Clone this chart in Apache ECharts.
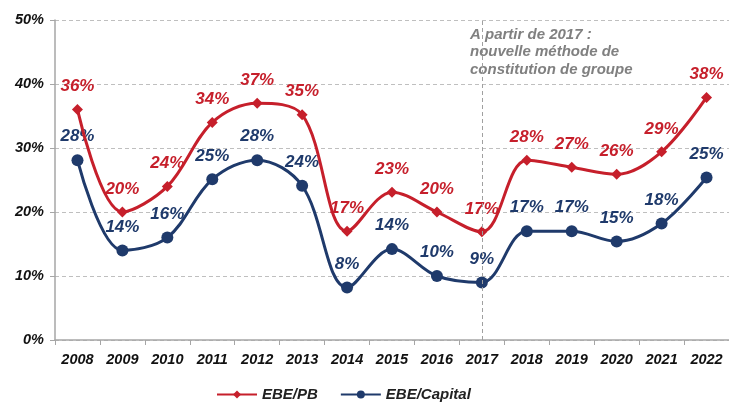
<!DOCTYPE html>
<html>
<head>
<meta charset="utf-8">
<script src="https://cdn.jsdelivr.net/npm/echarts@6/dist/echarts.min.js"></script>
<style>
  html, body { margin: 0; padding: 0; background: #fff; }
  #chart { width: 729px; height: 405px; }
</style>
</head>
<body>
<div id="chart"></div>
<script>
const years = ['2008', '2009', '2010', '2011', '2012', '2013', '2014', '2015', '2016', '2017', '2018', '2019', '2020', '2021', '2022'];
const ebePb = [36, 20, 24, 34, 37, 35.2, 17, 23.1, 20, 16.9, 28.1, 27, 25.9, 29.4, 37.9];
const ebeCapital = [28.1, 14, 16, 25.1, 28.1, 24.1, 8.2, 14.2, 10, 9, 17, 17, 15.4, 18.2, 25.4];
const yTicks = [0, 10, 20, 30, 40, 50];

const RED = '#C61F2B';
const NAVY = '#1F3A6B';
const FONT = '"Liberation Sans", Arial, sans-serif';

const chart = echarts.init(document.getElementById('chart'));

function labelStyle(color) {
  return {
    show: true,
    position: 'top',
    distance: 9,
    color: color,
    fontFamily: FONT,
    fontSize: 17,
    fontWeight: 'bold',
    fontStyle: 'italic',
    formatter: p => Math.round(p.value) + '%'
  };
}

const axisFont = { color: '#111', fontFamily: FONT, fontSize: 14.5, fontWeight: 'bold', fontStyle: 'italic' };

chart.setOption({
  animation: false,
  grid: { left: 55, right: 0, top: 20, bottom: 65 },
  legend: {
    bottom: 3,
    left: 216,
    padding: 0,
    itemWidth: 40,
    itemHeight: 10,
    itemGap: 22,
    textStyle: { fontFamily: FONT, fontSize: 15, fontWeight: 'bold', fontStyle: 'italic', color: '#222' },
    data: ['EBE/PB', 'EBE/Capital']
  },
  xAxis: {
    type: 'category',
    data: years,
    boundaryGap: true,
    axisLine: { lineStyle: { color: '#A6A6A6', width: 1.5 } },
    axisTick: { show: true, length: 5, lineStyle: { color: '#A6A6A6' } },
    axisLabel: Object.assign({ margin: 12, interval: 0 }, axisFont)
  },
  yAxis: {
    type: 'value',
    min: yTicks[0],
    max: yTicks[yTicks.length - 1],
    interval: 10,
    axisLine: { show: true, lineStyle: { color: '#A6A6A6', width: 1.5 } },
    axisTick: { show: true, length: 5, lineStyle: { color: '#A6A6A6' } },
    axisLabel: Object.assign({ margin: 11, formatter: '{value}%' }, axisFont),
    splitLine: { lineStyle: { color: '#BFBFBF', type: [4, 3], width: 1 } }
  },
  graphic: [{
    type: 'text',
    left: 470,
    top: 26,
    style: {
      text: 'A partir de 2017 :\nnouvelle méthode de\nconstitution de groupe',
      fill: '#808080',
      font: 'italic bold 15px ' + FONT,
      lineHeight: 17.5
    }
  }],
  series: [{
    name: 'EBE/PB',
    type: 'line',
    data: ebePb,
    smooth: 0.35,
    symbol: 'diamond',
    symbolSize: 11,
    itemStyle: { color: RED },
    lineStyle: { color: RED, width: 3 },
    label: labelStyle(RED),
    z: 3,
    markLine: {
      silent: true,
      symbol: 'none',
      label: { show: false },
      lineStyle: { color: '#A0A0A0', type: [4, 3], width: 1 },
      data: [{ xAxis: 8.5 }]
    }
  }, {
    name: 'EBE/Capital',
    type: 'line',
    data: ebeCapital,
    smooth: 0.35,
    symbol: 'circle',
    symbolSize: 12,
    itemStyle: { color: NAVY },
    lineStyle: { color: NAVY, width: 3 },
    label: labelStyle(NAVY),
    z: 2
  }]
});
</script>
</body>
</html>
